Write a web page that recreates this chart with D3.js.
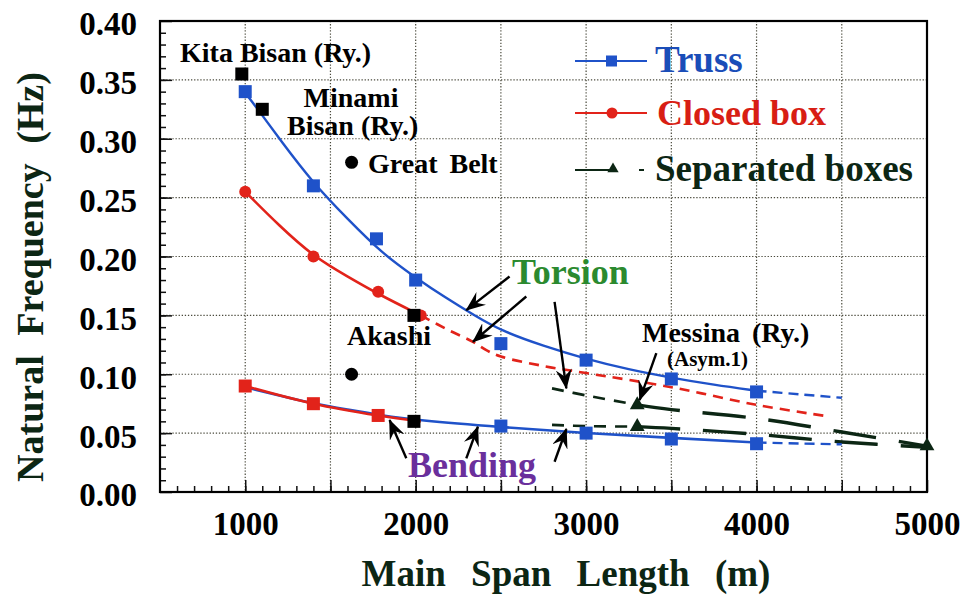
<!DOCTYPE html>
<html>
<head>
<meta charset="utf-8">
<script src="https://cdn.jsdelivr.net/npm/d3@7"></script>
<style>
  body { margin: 0; background: #fff; }
  svg text { font-family: "Liberation Serif", "Times New Roman", serif; font-weight: bold; }
</style>
</head>
<body>
<svg id="chart" width="961" height="596"></svg>
<script>
// ---- data (span in m, frequency in Hz) ----
// Truss: computed points and fitted curve
const trussTorsionPts = [[1000,0.340],[1400,0.260],[1770,0.215],[2000,0.180],[2500,0.126],[3000,0.112],[3500,0.096],[4000,0.085]];
const trussTorsionFit = [[1000,0.339],[1100,0.320],[1200,0.300],[1400,0.262],[1600,0.232],[1800,0.203],[2000,0.182],[2175,0.165],[2345,0.150],[2500,0.137],[2750,0.124],[3000,0.113],[3250,0.104],[3500,0.097],[3750,0.091],[4000,0.086]];
const trussTorsionExt = [[4000,0.086],[4250,0.083],[4500,0.080]];
const trussBendingPts = [[2500,0.056],[3000,0.050],[3500,0.045],[4000,0.041]];
const trussBendingFit = [[1000,0.089],[1200,0.082],[1400,0.075],[1600,0.070],[1800,0.065],[2000,0.061],[2500,0.055],[3000,0.050],[3500,0.046],[4000,0.042]];
const trussBendingExt = [[4000,0.042],[4250,0.0412],[4500,0.0405]];

// Closed box
const boxTorsionPts = [[1000,0.255],[1400,0.200],[1780,0.170],[2030,0.150]];
const boxTorsionFit = [[1000,0.255],[1200,0.226],[1400,0.200],[1600,0.183],[1780,0.168],[2030,0.150]];
const boxTorsionExt = [[2030,0.150],[2200,0.137],[2330,0.128],[2420,0.120],[2500,0.115],[2750,0.107],[3000,0.101],[3500,0.089],[4000,0.074],[4430,0.064]];
const boxBendingPts = [[1000,0.090],[1400,0.075],[1780,0.065]];
const boxBendingFit = [[1000,0.090],[1400,0.075],[1780,0.065],[2030,0.060]];

// Separated boxes
const sepTorsionNear = [[2800,0.088],[3000,0.082],[3300,0.074]];
const sepTorsionFar  = [[3300,0.074],[3500,0.070],[4000,0.0625],[4500,0.051],[5000,0.039]];
const sepBendingNear = [[2800,0.057],[3000,0.056],[3300,0.0555]];
const sepBendingFar  = [[3300,0.0555],[3500,0.054],[4000,0.049],[4500,0.0425],[5000,0.038]];
const sepPts = [[3300,0.074],[3300,0.0555],[5000,0.039]];

// Existing bridges
const bridgeSquares = [[980,0.355],[1100,0.325],[1990,0.150],[1990,0.060]];
const bridgeCircles = [[1624,0.280],[1624,0.100]];

// Axis ticks
const xMajor = [1000,1500,2000,2500,3000,3500,4000,4500,5000];
const xLabels = [1000,2000,3000,4000,5000];
const xMinor = d3.range(600, 5000, 100);
const yMajor = [0,0.05,0.10,0.15,0.20,0.25,0.30,0.35,0.40];
const yMinor = d3.range(1, 40).map(d => d / 100);

// Arrows: [fromSpan, fromFreq, toSpan, toFreq]
const torsionArrows = [[2551,0.183,2297,0.1545],[2649,0.166,2336,0.1276],[2815,0.1615,2884,0.088],[3412,0.118,3314,0.078]];
const bendingArrows = [[1945,0.0286,1847,0.0611],[2297,0.0286,2365,0.0554],[2815,0.0257,2884,0.0535]];

// ---- drawing ----
const plot = { left: 160, right: 927, top: 21, bottom: 492 };
const svg = d3.select("#chart");

const x = d3.scaleLinear().domain([500, 5000]).range([plot.left, plot.right]);
const y = d3.scaleLinear().domain([0, 0.40]).range([plot.bottom, plot.top]);

const BLUE = "#1f52c9", RED = "#e2231a", DARK = "#0c2614";

// arrowhead marker
svg.append("defs").append("marker")
  .attr("id", "head").attr("viewBox", "0 0 20 16")
  .attr("refX", 19).attr("refY", 8)
  .attr("markerWidth", 20).attr("markerHeight", 16)
  .attr("markerUnits", "userSpaceOnUse").attr("orient", "auto")
  .append("path").attr("d", "M0,0 L20,8 L0,16 L7,8 Z").attr("fill", "#000");

// grid
const grid = svg.append("g").attr("stroke", "#4a4a3c").attr("stroke-width", 1.2).attr("stroke-dasharray", "1.3,1.8");
grid.selectAll(".gx").data(xMajor.filter(d => d < 5000)).join("line")
  .attr("x1", d => x(d)).attr("x2", d => x(d)).attr("y1", plot.top).attr("y2", plot.bottom);
grid.selectAll(".gy").data(yMajor.filter(d => d > 0 && d < 0.40)).join("line")
  .attr("y1", d => y(d)).attr("y2", d => y(d)).attr("x1", plot.left).attr("x2", plot.right);

// axes with inward ticks
const yAxis = svg.append("g").attr("transform", `translate(${plot.left},0)`)
  .call(d3.axisLeft(y).tickValues(yMajor).tickSize(-12).tickPadding(23).tickFormat(d3.format(".2f")));
svg.append("g").attr("transform", `translate(${plot.left},0)`)
  .call(d3.axisLeft(y).tickValues(yMinor).tickSize(-6).tickFormat(""));
const xAxis = svg.append("g").attr("transform", `translate(0,${plot.bottom})`)
  .call(d3.axisBottom(x).tickValues(xMajor).tickSize(-12).tickPadding(20)
    .tickFormat(d => xLabels.includes(d) ? String(d) : ""));
svg.append("g").attr("transform", `translate(0,${plot.bottom})`)
  .call(d3.axisBottom(x).tickValues(xMinor).tickSize(-6).tickFormat(""));
svg.selectAll(".domain").remove();
svg.selectAll(".tick line").attr("stroke", "#111").attr("stroke-width", 1.5);
yAxis.selectAll("text").attr("font-size", 33).attr("fill", "#000")
  .attr("font-family", "Liberation Serif, serif").attr("font-weight", "bold").attr("dy", "0.42em");
xAxis.selectAll("text").attr("font-size", 33).attr("fill", "#000")
  .attr("font-family", "Liberation Serif, serif").attr("font-weight", "bold");

// frame
svg.append("rect").attr("x", plot.left).attr("y", plot.top)
  .attr("width", plot.right - plot.left).attr("height", plot.bottom - plot.top)
  .attr("fill", "none").attr("stroke", "#000").attr("stroke-width", 2.2);

// axis titles
svg.append("text").attr("x", 566).attr("y", 586).attr("text-anchor", "middle")
  .attr("font-size", 37).attr("word-spacing", 16).attr("fill", DARK).text("Main Span Length (m)");
svg.append("text").attr("transform", "translate(43,277) rotate(-90)").attr("text-anchor", "middle")
  .attr("font-size", 38).attr("word-spacing", 10).attr("fill", DARK).text("Natural Frequency (Hz)");

const smooth = d3.line().x(d => x(d[0])).y(d => y(d[1])).curve(d3.curveBasis);
const bent = d3.line().x(d => x(d[0])).y(d => y(d[1])).curve(d3.curveCatmullRom.alpha(0.5));
const lines = svg.append("g").attr("fill", "none");
function path(data, gen, color, width, dash) {
  const p = lines.append("path").datum(data).attr("d", gen)
    .attr("stroke", color).attr("stroke-width", width);
  if (dash) p.attr("stroke-dasharray", dash);
  return p;
}

// separated boxes
path(sepTorsionNear, bent, DARK, 2.6, "12,9");
path(sepBendingNear, bent, DARK, 2.6, "12,9");
path(sepTorsionFar, bent, DARK, 3.4, "43,23");
path(sepBendingFar, bent, DARK, 3.4, "43,23");

// closed box
path(boxTorsionExt, bent, RED, 2.6, "10,7");
path(boxTorsionFit, smooth, RED, 2.6);

// truss
path(trussTorsionFit, smooth, BLUE, 2.4);
path(trussTorsionExt, bent, BLUE, 2.4, "10,6");
path(trussBendingFit, smooth, BLUE, 2.6);
path(trussBendingExt, bent, BLUE, 2.4, "10,6");
path(boxBendingFit, bent, RED, 2.6);

// markers
const mk = svg.append("g");
const sq = (data, color, s) => mk.append("g").selectAll("rect").data(data).join("rect")
  .attr("x", d => x(d[0]) - s / 2).attr("y", d => y(d[1]) - s / 2)
  .attr("width", s).attr("height", s).attr("fill", color);
sq(trussTorsionPts, BLUE, 13);
sq(trussBendingPts, BLUE, 13);
sq(boxBendingPts, RED, 13);
mk.append("g").selectAll("circle").data(boxTorsionPts).join("circle")
  .attr("cx", d => x(d[0])).attr("cy", d => y(d[1])).attr("r", 6).attr("fill", RED);
sq(bridgeSquares, "#000", 13);
mk.append("g").selectAll("circle").data(bridgeCircles).join("circle")
  .attr("cx", d => x(d[0])).attr("cy", d => y(d[1])).attr("r", 6.5).attr("fill", "#000");
const tri = d3.symbol().type(d3.symbolTriangle).size(95);
mk.append("g").selectAll("path").data(sepPts).join("path")
  .attr("transform", d => `translate(${x(d[0])},${y(d[1])})`).attr("d", tri).attr("fill", DARK);

// arrows
const arrowG = svg.append("g").attr("stroke", "#000").attr("stroke-width", 2.4);
arrowG.selectAll("line").data(torsionArrows.concat(bendingArrows)).join("line")
  .attr("x1", d => x(d[0])).attr("y1", d => y(d[1]))
  .attr("x2", d => x(d[2])).attr("y2", d => y(d[3]))
  .attr("marker-end", "url(#head)");

// labels
const label = (tx, ty, txt, size, color, anchor) => svg.append("text")
  .attr("x", tx).attr("y", ty).attr("font-size", size).attr("fill", color || "#000")
  .attr("text-anchor", anchor || "start").text(txt);
label(180, 62, "Kita Bisan (Ry.)", 28);
label(351, 107, "Minami", 28, "#000", "middle");
label(287, 135, "Bisan (Ry.)", 28);
label(368, 173, "Great Belt", 28).attr("word-spacing", 5);
label(347, 345, "Akashi", 28);
label(642, 342, "Messina (Ry.)", 28).attr("word-spacing", 5);
label(667, 366, "(Asym.1)", 21);
label(512, 284, "Torsion", 36, "#2b8a2f");
label(408, 477, "Bending", 36, "#6a2f9c");

// legend
const lg = svg.append("g");
const ly = [61, 113, 170];
lg.append("line").attr("x1", 575).attr("x2", 647).attr("y1", ly[0]).attr("y2", ly[0]).attr("stroke", BLUE).attr("stroke-width", 2.2);
lg.append("rect").attr("x", 606).attr("y", ly[0] - 5.5).attr("width", 11).attr("height", 11).attr("fill", BLUE);
lg.append("line").attr("x1", 575).attr("x2", 647).attr("y1", ly[1]).attr("y2", ly[1]).attr("stroke", RED).attr("stroke-width", 2.2);
lg.append("circle").attr("cx", 612).attr("cy", ly[1]).attr("r", 5.5).attr("fill", RED);
lg.append("line").attr("x1", 575).attr("x2", 616).attr("y1", ly[2]).attr("y2", ly[2]).attr("stroke", DARK).attr("stroke-width", 2.2);
lg.append("path").attr("transform", `translate(613,${ly[2] - 1})`).attr("d", d3.symbol().type(d3.symbolTriangle).size(55)).attr("fill", DARK);
lg.append("line").attr("x1", 639).attr("x2", 644).attr("y1", ly[2]).attr("y2", ly[2]).attr("stroke", DARK).attr("stroke-width", 2);
label(655, 72, "Truss", 37, "#1a4db8");
label(657, 125, "Closed box", 36, "#d81e14");
label(655, 181, "Separated boxes", 37, DARK);
</script>
</body>
</html>
